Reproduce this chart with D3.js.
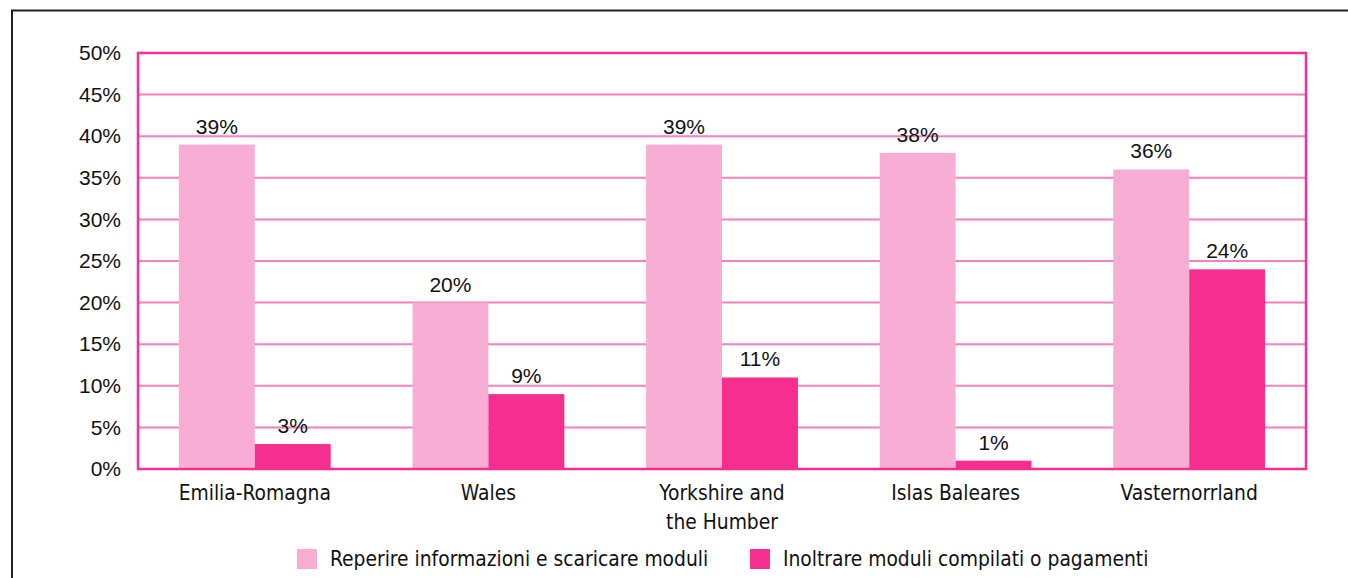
<!DOCTYPE html>
<html><head><meta charset="utf-8">
<script src="https://cdn.jsdelivr.net/npm/d3@7"></script>
<style>body{margin:0;background:#fff}svg{display:block}</style>
</head><body>
<svg id="c" width="1348" height="578"></svg>
<script>
const categories = [["Emilia-Romagna"], ["Wales"], ["Yorkshire and", "the Humber"], ["Islas Baleares"], ["Vasternorrland"]];
const seriesNames = ["Reperire informazioni e scaricare moduli", "Inoltrare moduli compilati o pagamenti"];
const reperire = [39, 20, 39, 38, 36];
const inoltrare = [3, 9, 11, 1, 24];
const yTicks = [0, 5, 10, 15, 20, 25, 30, 35, 40, 45, 50];
const colors = ["#f8aed4", "#f52e8f"];

(function () {
const svg = d3.select("#c");
svg.append("path").attr("d", "M12,578 V10.5 H1348").attr("fill", "none").attr("stroke", "#222").attr("stroke-width", 2);

const pL = 138, pR = 1306, pT = 53, pB = 469;
const x = d3.scaleBand().domain(d3.range(categories.length)).range([pL, pR]).paddingInner(0.35).paddingOuter(0.175);
const xs = d3.scaleBand().domain([0, 1]).range([0, x.bandwidth()]);
const y = d3.scaleLinear().domain([0, 50]).range([pB, pT]);

svg.append("g").selectAll("line").data(yTicks.filter(t => t > 0 && t < 50)).join("line")
  .attr("x1", pL).attr("x2", pR).attr("y1", d => y(d)).attr("y2", d => y(d))
  .attr("stroke", "#f77fbb").attr("stroke-width", 2);

const data = [reperire, inoltrare];
data.forEach((vals, s) => {
  svg.append("g").selectAll("rect").data(vals).join("rect")
    .attr("x", (d, i) => x(i) + xs(s)).attr("width", xs.bandwidth())
    .attr("y", d => y(d)).attr("height", d => y(0) - y(d))
    .attr("fill", colors[s]);
  svg.append("g").selectAll("text").data(vals).join("text")
    .attr("x", (d, i) => x(i) + xs(s) + xs.bandwidth() / 2)
    .attr("y", d => y(d) - 11)
    .attr("text-anchor", "middle")
    .attr("font-family", "Liberation Sans, Arial, sans-serif").attr("font-size", 21).attr("fill", "#111")
    .text(d => d + "%");
});

svg.append("rect").attr("x", pL).attr("y", pT).attr("width", pR - pL).attr("height", pB - pT)
  .attr("fill", "none").attr("stroke", "#f52e8f").attr("stroke-width", 2.5);

const yAxis = d3.axisLeft(y).tickValues(yTicks).tickFormat(d => d + "%").tickSize(0).tickPadding(17);
const ya = svg.append("g").attr("transform", `translate(${pL},0)`).call(yAxis);
ya.select(".domain").remove();
ya.selectAll("text").attr("font-family", "Liberation Sans, Arial, sans-serif").attr("font-size", 21).attr("fill", "#111");

const xl = svg.append("g").selectAll("text").data(categories).join("text")
  .attr("x", (d, i) => x(i) + x.bandwidth() / 2).attr("y", 500)
  .attr("text-anchor", "middle")
  .attr("font-family", "DejaVu Sans Condensed, sans-serif").attr("font-size", 20.8).attr("fill", "#111");
xl.selectAll("tspan").data(d => d).join("tspan")
  .attr("x", function () { return this.parentNode.getAttribute("x"); })
  .attr("dy", (d, i) => i === 0 ? 0 : 29).text(d => d);

const legX = [297, 750];
const leg = svg.append("g").selectAll("g").data(seriesNames).join("g")
  .attr("transform", (d, i) => `translate(${legX[i]},549)`);
leg.append("rect").attr("width", 20).attr("height", 20).attr("fill", (d, i) => colors[i]);
leg.append("text").attr("x", 33).attr("y", 17)
  .attr("font-family", "DejaVu Sans Condensed, sans-serif").attr("font-size", 20.8).attr("fill", "#111")
  .text(d => d);
})();
</script>
</body></html>
